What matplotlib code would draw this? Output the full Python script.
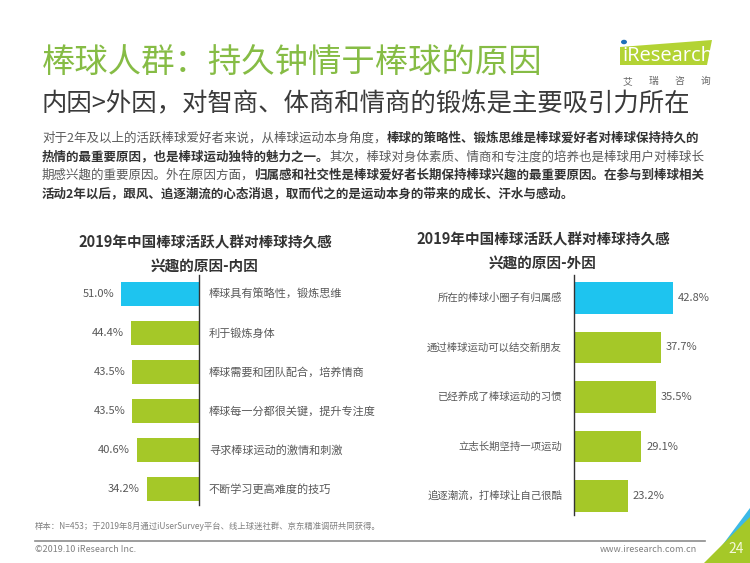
import matplotlib
matplotlib.use('Agg')
import matplotlib.pyplot as plt
from matplotlib.patches import Polygon, Circle
from matplotlib.lines import Line2D

plt.rcParams['font.family'] = ['Noto Sans CJK SC', 'DejaVu Sans']

W, H = 750, 563
fig = plt.figure(figsize=(7.5, 5.63), dpi=100)


def fx(x):
    return x / W


def fy(y):
    return 1 - y / H


# ---------------- data ----------------
inner_labels = ["棒球具有策略性，锻炼思维", "利于锻炼身体", "棒球需要和团队配合，培养情商",
                "棒球每一分都很关键，提升专注度", "寻求棒球运动的激情和刺激", "不断学习更高难度的技巧"]
inner_values = [51.0, 44.4, 43.5, 43.5, 40.6, 34.2]

outer_labels = ["所在的棒球小圈子有归属感", "通过棒球运动可以结交新朋友", "已经养成了棒球运动的习惯",
                "立志长期坚持一项运动", "追逐潮流，打棒球让自己很酷"]
outer_values = [42.8, 37.7, 35.5, 29.1, 23.2]

title_text = "棒球人群：持久钟情于棒球的原因"
subtitle_text = "内因>外因，对智商、体商和情商的锻炼是主要吸引力所在"
para_lines = [
    [("对于2年及以上的活跃棒球爱好者来说，从棒球运动本身角度，", False),
     ("棒球的策略性、锻炼思维是棒球爱好者对棒球保持持久的", True)],
    [("热情的最重要原因，也是棒球运动独特的魅力之一。", True),
     ("其次，棒球对身体素质、情商和专注度的培养也是棒球用户对棒球长", False)],
    [("期感兴趣的重要原因。外在原因方面，", False),
     ("归属感和社交性是棒球爱好者长期保持棒球兴趣的最重要原因。在参与到棒球相关", True)],
    [("活动2年以后，跟风、追逐潮流的心态消退，取而代之的是运动本身的带来的成长、汗水与感动。", True)],
]
left_title = ["2019年中国棒球活跃人群对棒球持久感", "兴趣的原因-内因"]
right_title = ["2019年中国棒球活跃人群对棒球持久感", "兴趣的原因-外因"]
source_text = "样本：N=453；于2019年8月通过iUserSurvey平台、线上球迷社群、京东精准调研共同获得。"

BLUE = '#1ec4ef'
GREEN = '#a5c828'
TITLE_GREEN = '#86bc45'

# ---------------- header ----------------
fig.text(fx(42), fy(62), title_text, fontsize=24, fontweight='light', color=TITLE_GREEN,
         va='center', ha='left')
fig.text(fx(42), fy(104), subtitle_text, fontsize=18.3, fontweight='light', color='#3a3a3a',
         va='center', ha='left')

renderer = fig.canvas.get_renderer()
for i, segs in enumerate(para_lines):
    x = 42
    y = 138 + i * 18.7
    for s, b in segs:
        t = fig.text(fx(x), fy(y), s, fontsize=9, fontweight='bold' if b else 'normal',
                     color='#333333' if b else '#5a5a5a', va='center', ha='left')
        bb = t.get_window_extent(renderer)
        x += bb.width

# logo
logo = Polygon([(fx(620), fy(47)), (fx(712), fy(40)), (fx(707), fy(65)), (fx(620), fy(65))],
               closed=True, transform=fig.transFigure, facecolor='#b3d334', edgecolor='none')
fig.patches.append(logo)
fig.text(fx(622), fy(56), "iResearch", fontsize=14.5, color='white', va='center', ha='left',
         family=['Open Sans', 'DejaVu Sans'])
fig.patches.append(Circle((fx(624), fy(42)), 0.004, transform=fig.transFigure,
                          facecolor='#1d6fb8', edgecolor='none'))
for k, ch in enumerate("艾瑞咨询"):
    fig.text(fx(627 + k * 26), fy(81), ch, fontsize=7, color='#666666', va='center', ha='center')

# ---------------- left chart ----------------
pxuL = 1.53
axL = fig.add_axes([fx(60), fy(505), (199 - 60) / W, (505 - 275) / H])
axL.set_xlim((199 - 60) / pxuL, 0)
axL.set_ylim(5 + 16 / 39, -19 / 39)
posL = list(range(len(inner_values)))
colorsL = [BLUE] + [GREEN] * (len(inner_values) - 1)
axL.barh(posL, inner_values, height=0.62, color=colorsL)
for s in ['top', 'bottom', 'left']:
    axL.spines[s].set_visible(False)
axL.spines['right'].set_color('#333333')
axL.spines['right'].set_linewidth(1)
axL.set_xticks([])
axL.set_yticks([])
axL.patch.set_alpha(0)
for i, (v, lab) in enumerate(zip(inner_values, inner_labels)):
    axL.annotate(f'{v:.1f}%', xy=(v, i), xytext=(-7, 0), textcoords='offset pixels',
                 ha='right', va='center', fontsize=8, color='#595959', annotation_clip=False)
    axL.annotate(lab, xy=(0, i), xytext=(10, 0), textcoords='offset pixels',
                 ha='left', va='center', fontsize=8, color='#595959', annotation_clip=False)

fig.text(fx(205), fy(242), left_title[0], fontsize=10.5, fontweight='bold', color='#333333',
         ha='center', va='center')
fig.text(fx(205), fy(267), left_title[1], fontsize=10.5, fontweight='bold', color='#333333',
         ha='center', va='center')

# ---------------- right chart ----------------
pxuR = 2.31
axR = fig.add_axes([fx(574), fy(515), (720 - 574) / W, (515 - 275) / H])
axR.set_xlim(0, (720 - 574) / pxuR)
axR.set_ylim(4 + 19 / 49.5, -23 / 49.5)
posR = list(range(len(outer_values)))
colorsR = [BLUE] + [GREEN] * (len(outer_values) - 1)
axR.barh(posR, outer_values, height=0.63, color=colorsR)
for s in ['top', 'bottom', 'right']:
    axR.spines[s].set_visible(False)
axR.spines['left'].set_color('#333333')
axR.spines['left'].set_linewidth(1)
axR.set_xticks([])
axR.set_yticks([])
axR.patch.set_alpha(0)
for i, (v, lab) in enumerate(zip(outer_values, outer_labels)):
    axR.annotate(f'{v:.1f}%', xy=(v, i), xytext=(5, 0), textcoords='offset pixels',
                 ha='left', va='center', fontsize=8, color='#595959', annotation_clip=False)
    axR.annotate(lab, xy=(0, i), xytext=(-12, 0), textcoords='offset pixels',
                 ha='right', va='center', fontsize=7.5, color='#595959', annotation_clip=False)

fig.text(fx(543), fy(239), right_title[0], fontsize=10.5, fontweight='bold', color='#333333',
         ha='center', va='center')
fig.text(fx(543), fy(264), right_title[1], fontsize=10.5, fontweight='bold', color='#333333',
         ha='center', va='center')

# ---------------- footer ----------------
fig.text(fx(35), fy(526), source_text, fontsize=6, color='#808080', ha='left', va='center')
fig.add_artist(Line2D([fx(35), fx(705)], [fy(541), fy(541)], transform=fig.transFigure,
                      color='#8c8c8c', lw=1.2))
fig.text(fx(35), fy(549), "©2019.10 iResearch Inc.", fontsize=6.5, color='#808080',
         ha='left', va='center')
fig.text(fx(697), fy(549), "www.iresearch.com.cn", fontsize=6.5, color='#808080',
         ha='right', va='center')

# corner decoration
fig.patches.append(Polygon([(fx(721), fy(547)), (fx(750), fy(508)), (fx(750), fy(522)), (fx(731), fy(547))],
                           closed=True, transform=fig.transFigure, facecolor='#3cb9e6',
                           edgecolor='none'))
fig.patches.append(Polygon([(fx(704), fy(563)), (fx(750), fy(517)), (fx(750), fy(563))],
                           closed=True, transform=fig.transFigure, facecolor='#a5c828',
                           edgecolor='none'))
fig.text(fx(736), fy(549), "24", fontsize=10, color='#f4f8d8', ha='center', va='center')

fig.savefig('out.png', dpi=100)
